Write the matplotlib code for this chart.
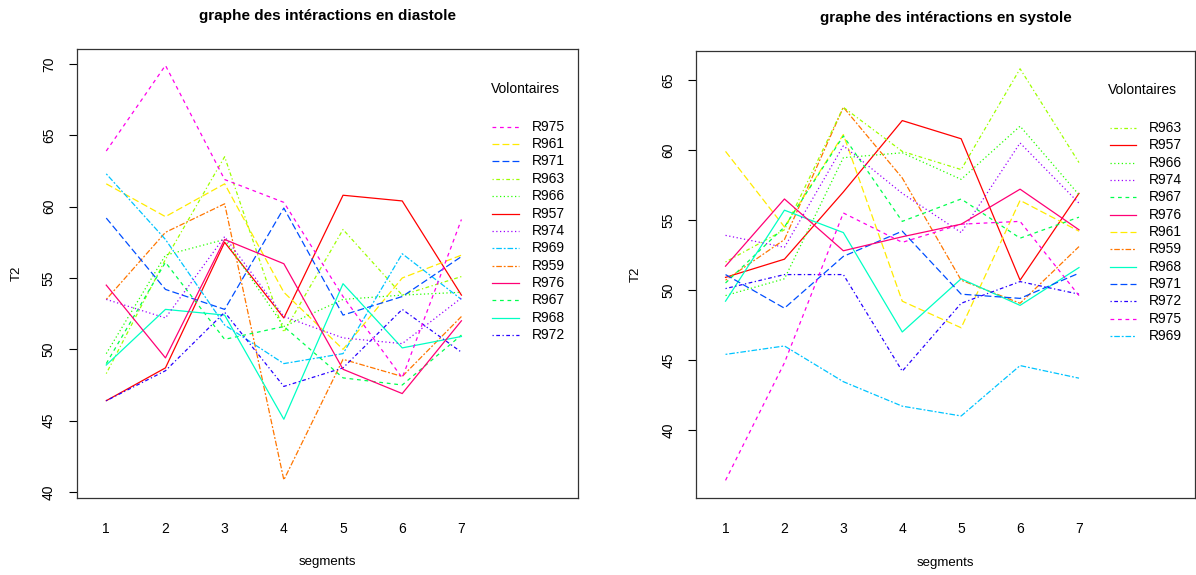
import colorsys
import matplotlib
matplotlib.use('Agg')
import matplotlib.pyplot as plt

plt.rcParams['font.family'] = ['Liberation Sans', 'DejaVu Sans']

segments = [1, 2, 3, 4, 5, 6, 7]
subjects = ['R957', 'R959', 'R961', 'R963', 'R966', 'R967', 'R968',
            'R969', 'R971', 'R972', 'R974', 'R975', 'R976']

# mean T2 per segment, same order as subjects
diastole = [
    [46.4, 48.7, 57.5, 52.2, 60.8, 60.4, 53.8],   # R957
    [53.5, 58.2, 60.2, 40.85, 49.3, 48.1, 52.3],  # R959
    [61.6, 59.3, 61.6, 54.0, 50.0, 55.0, 56.6],   # R961
    [48.3, 56.3, 63.5, 51.2, 58.4, 53.8, 55.1],   # R963
    [49.7, 56.6, 57.7, 51.6, 53.5, 53.8, 54.0],   # R966
    [49.0, 56.1, 50.7, 51.6, 48.0, 47.5, 51.0],   # R967
    [48.9, 52.8, 52.4, 45.1, 54.6, 50.1, 50.9],   # R968
    [62.3, 57.7, 51.7, 49.0, 49.7, 56.7, 53.5],   # R969
    [59.2, 54.2, 52.8, 59.9, 52.4, 53.7, 56.5],   # R971
    [46.4, 48.5, 52.6, 47.4, 48.7, 52.8, 49.8],   # R972
    [53.5, 52.2, 57.9, 52.3, 50.8, 50.4, 53.6],   # R974
    [63.9, 69.9, 61.9, 60.3, 53.7, 48.0, 59.1],   # R975
    [54.5, 49.4, 57.7, 56.0, 48.6, 46.9, 52.0],   # R976
]

systole = [
    [50.9, 52.2, 57.0, 62.1, 60.8, 50.7, 56.9],   # R957
    [50.7, 53.6, 63.05, 58.0, 50.7, 49.05, 53.1], # R959
    [59.9, 54.5, 61.1, 49.2, 47.3, 56.4, 54.2],   # R961
    [52.0, 54.3, 63.05, 59.9, 58.6, 65.8, 59.1],  # R963
    [49.6, 50.8, 59.45, 59.8, 57.9, 61.7, 56.8],  # R966
    [50.5, 54.5, 61.0, 54.9, 56.5, 53.7, 55.2],   # R967
    [49.2, 55.7, 54.1, 47.0, 50.8, 48.9, 51.6],   # R968
    [45.4, 46.0, 43.45, 41.7, 41.0, 44.6, 43.7],  # R969
    [51.1, 48.7, 52.4, 54.2, 49.7, 49.4, 51.2],   # R971
    [50.1, 51.1, 51.1, 44.2, 49.05, 50.6, 49.7],  # R972
    [53.9, 53.05, 60.3, 56.9, 54.1, 60.5, 56.2],  # R974
    [36.4, 44.8, 55.5, 53.4, 54.7, 54.9, 49.6],   # R975
    [51.7, 56.5, 52.8, 53.8, 54.7, 57.2, 54.3],   # R976
]

# R rainbow(13) colours and lty = 13:1 (cycling over the 6 R line types)
n = len(subjects)
colors = [colorsys.hsv_to_rgb(i / n, 1, 1) for i in range(n)]
r_lty = {1: '-', 2: (0, (3, 3)), 3: (0, (1, 2)), 4: (0, (1, 2, 3, 2)),
         5: (0, (5.5, 2.5)), 6: (0, (1.5, 1.5, 4.5, 1.5))}
styles = [r_lty[(k - 1) % 6 + 1] for k in range(n, 0, -1)]

fig = plt.figure(figsize=(11.96, 5.75), dpi=100)
ax1 = fig.add_axes([0.0641, 0.1339, 0.4192, 0.7809])
ax2 = fig.add_axes([0.582, 0.1334, 0.4172, 0.7784])


def draw(ax, data, title, ylim, yticks):
    for i in range(n):
        ax.plot(segments, data[i], color=colors[i], linestyle=styles[i], lw=0.9)
    ax.set_xlim(0.5, 8.97)
    ax.set_ylim(*ylim)
    ax.set_xticks(segments)
    ax.set_yticks(yticks)
    ax.tick_params(axis='x', length=0, pad=17, labelsize=10)
    ax.tick_params(axis='y', length=6, width=0.8, labelsize=10, pad=9)
    for lab in ax.get_yticklabels():
        lab.set_rotation(90)
        lab.set_va('center')
    for s in ax.spines.values():
        s.set_linewidth(0.9)
        s.set_color('#333333')
    ax.set_xlabel('segments', fontsize=9.5, labelpad=15)
    ax.set_ylabel('T2', fontsize=9.5, labelpad=14)
    ax.set_title(title, fontsize=11, fontweight='bold', pad=21)

    # legend ordered like R interaction.plot (by last value)
    order = sorted(range(n), key=lambda i: data[i][-1], reverse=True)
    ax.text(0.826, 0.912, 'Volontaires', transform=ax.transAxes,
            fontsize=10, va='center', ha='left')
    for k, i in enumerate(order):
        y = 0.827 - k * 0.0387
        ax.plot([0.829, 0.882], [y, y], transform=ax.transAxes,
                color=colors[i], linestyle=styles[i], lw=0.9)
        ax.text(0.908, y, subjects[i], transform=ax.transAxes,
                fontsize=10, va='center', ha='left')


draw(ax1, diastole, 'graphe des intéractions en diastole',
     (39.58, 71.05), [40, 45, 50, 55, 60, 65, 70])
draw(ax2, systole, 'graphe des intéractions en systole',
     (35.12, 67.09), [40, 45, 50, 55, 60, 65])

fig.savefig('out.png', dpi=100)
